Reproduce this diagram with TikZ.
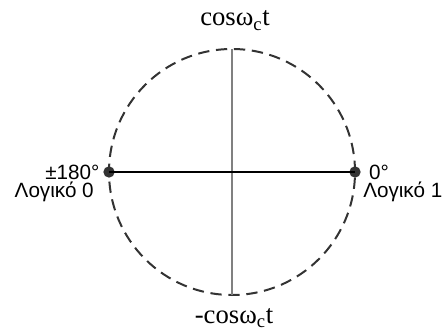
\documentclass[tikz,border=0pt]{standalone}
\usepackage{fontspec}
\setmainfont{Liberation Serif}
\setsansfont{Liberation Sans}
\usetikzlibrary{positioning}

\begin{document}
\begin{tikzpicture}[x=0.75pt, y=0.75pt,
  dot/.style={circle, fill=black!80, inner sep=0pt, minimum size=8.5pt},
  axis/.style={line width=1.5pt, black!50},
  lbl/.style={font=\sffamily\fontsize{15.5}{17}\selectfont, inner sep=0pt},
  phs/.style={font=\fontsize{20}{22}\selectfont, inner sep=0pt}]
  \useasboundingbox (0,0) rectangle (448,331);
  \coordinate (O) at (232,159);
  \coordinate (top) at (232,282);
  \coordinate (bot) at (232,36);
  \draw[black!80, line width=1.5pt, dash pattern=on 8.5pt off 5pt] (O) circle[radius=92.25pt];
  \draw[axis] (bot) -- (top);
  \node[dot] (L) at (109,159) {};
  \node[dot] (R) at (355,159) {};
  \draw[line width=1.1pt] (L.center) -- (R.center);
  % phase labels
  \node[phs, anchor=base] (cosp) at (235,305) {cosω\textsubscript{c}t};
  \node[phs, anchor=base] (cosn) at (234,8) {-cosω\textsubscript{c}t};
  \node[lbl, left=2.5pt of L] (deg180) {±180°};
  \node[lbl, right=6pt of R] (deg0) {0°};
  \node[lbl, anchor=base east] (log0) at (94,133) {Λογικό 0};
  \node[lbl, anchor=base west] (log1) at (363,133) {Λογικό 1};
\end{tikzpicture}
\end{document}
